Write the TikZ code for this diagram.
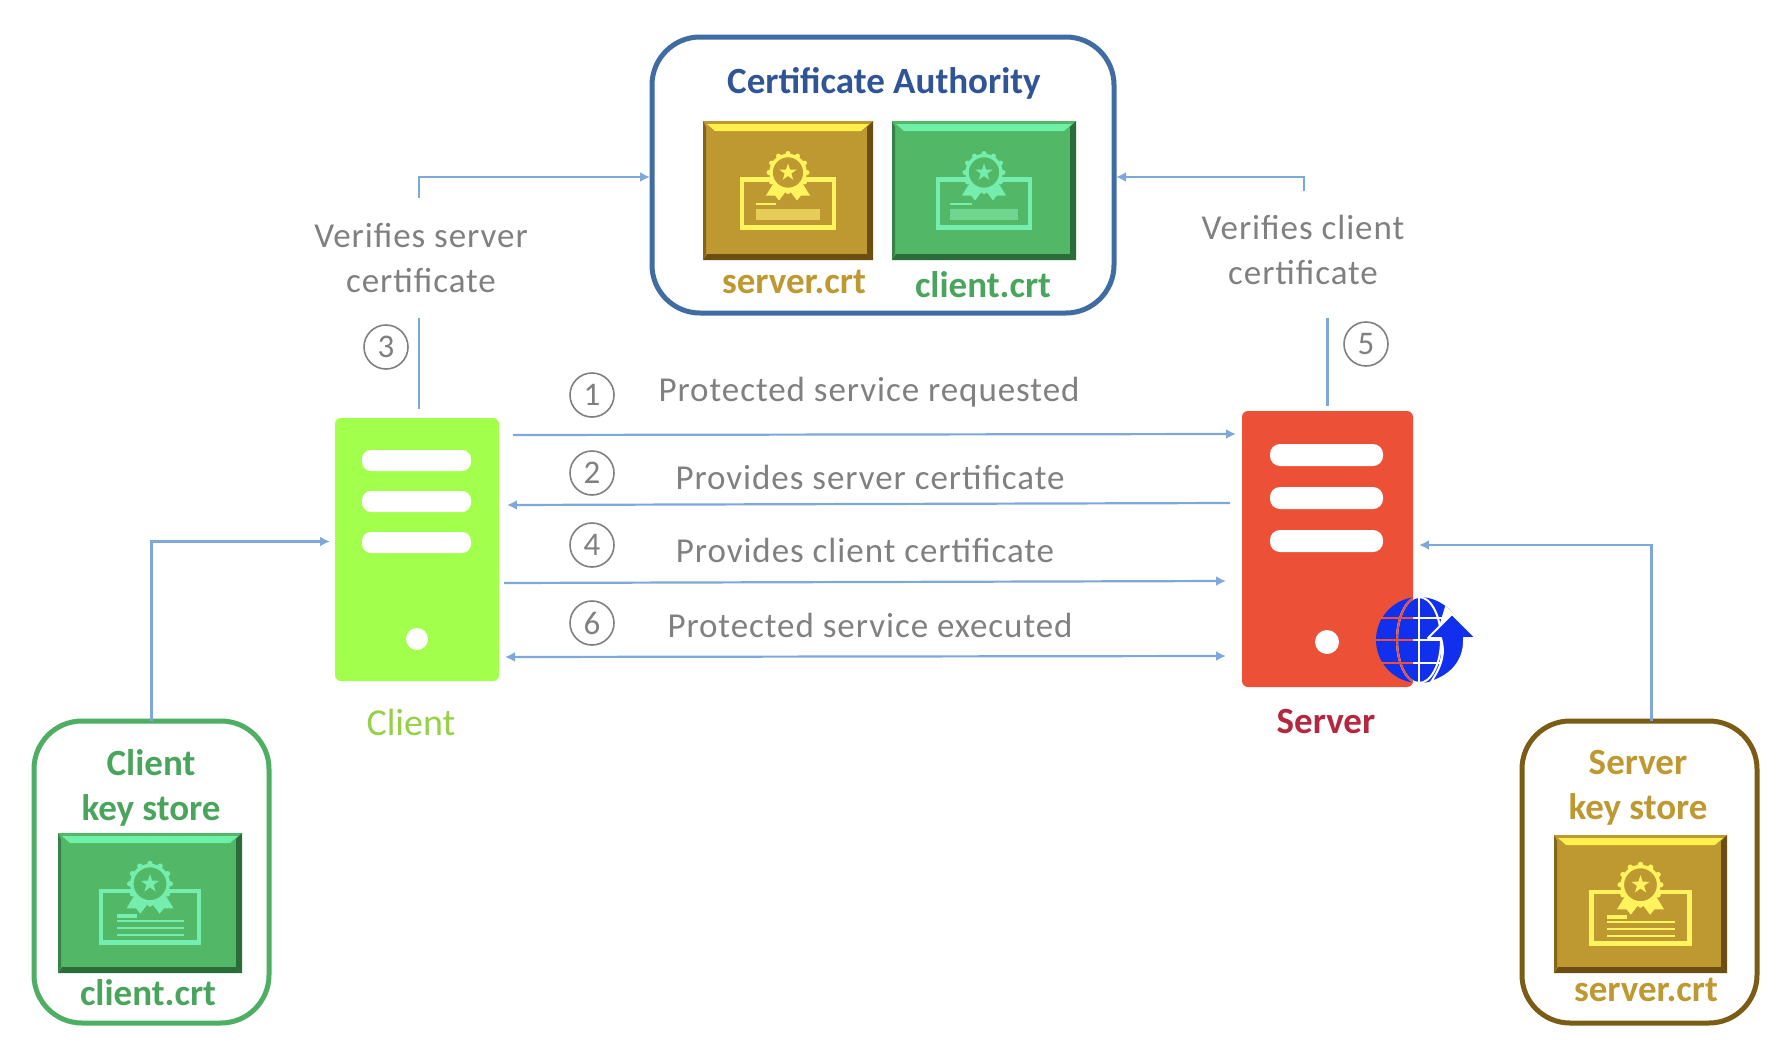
\documentclass[tikz,border=0pt]{standalone}
\usepackage{fontspec}
\setmainfont{Carlito}
\usetikzlibrary{arrows.meta,calc}
\definecolor{srvbase}{HTML}{BE9830}
\definecolor{srvlight}{HTML}{FFF04E}
\definecolor{srvdark}{HTML}{6B4F12}
\definecolor{srvicon}{HTML}{FFF35E}
\definecolor{srvbar}{HTML}{E6CC58}
\definecolor{clibase}{HTML}{52B766}
\definecolor{clilight}{HTML}{6FF0A6}
\definecolor{clidark}{HTML}{2C6B3A}
\definecolor{cliicon}{HTML}{74EDAE}
\definecolor{clibar}{HTML}{70D690}
\definecolor{flowblue}{HTML}{7FA8DA}
\definecolor{labelgrey}{HTML}{808080}
\definecolor{globeblue}{HTML}{1030EE}
\definecolor{caline}{HTML}{3F6CA3}
\definecolor{catext}{HTML}{2F5597}
\definecolor{clientlime}{HTML}{A2FF4C}
\definecolor{clienttext}{HTML}{96D048}
\definecolor{serverred}{HTML}{EC5138}
\definecolor{servertext}{HTML}{B5273F}
\definecolor{storegold}{HTML}{7A5C14}
\tikzset{
	flow/.style={draw=flowblue,line width=2.2pt,-{Latex[length=10pt,width=10pt]}},
	flowboth/.style={draw=flowblue,line width=2.2pt,{Latex[length=10pt,width=10pt]}-{Latex[length=10pt,width=10pt]}},
	hostbox/.style={rounded corners=6pt,inner sep=0pt,outer sep=0pt},
	storebox/.style={draw,fill=white,line width=5pt,rounded corners=48pt,inner sep=0pt,outer sep=0pt},
	cardbox/.style={inner sep=0pt,outer sep=0pt},
	stepnum/.style={circle,draw=labelgrey,line width=1.6pt,fill=white,text=labelgrey,minimum size=44pt,inner sep=0pt,font=\fontsize{33}{36}\selectfont},
	msg/.style={text=labelgrey,inner sep=0pt,align=center,font=\fontsize{35}{45}\selectfont\addfontfeatures{LetterSpace=2.7}},
	boldlabel/.style={inner sep=0pt,align=center,font=\fontsize{37}{45}\selectfont\bfseries}
}
% card with bevel and medal
\newcommand{\certcard}[7]{
	\node[cardbox,fill=#6base,minimum width=#4pt,minimum height=#5pt] (#1) at (#2,#3) {};
	\fill[#6light] ($(#1.north west)+(4,3)$) -- ($(#1.north east)+(-4,3)$) -- ($(#1.north east)+(-12,10)$) -- ($(#1.north west)+(12,10)$) -- cycle;
	\fill[#6dark] (#1.north east) -- (#1.south east) -- ++(-6,-6) -- ($(#1.north east)+(-6,6)$) -- cycle;
	\fill[#6dark] (#1.south west) -- (#1.south east) -- ++(-6,-6) -- ($(#1.south west)+(4,-6)$) -- cycle;
	\fill[#6dark!70!#6base] (#1.north west) -- (#1.south west) -- ++(3,-6) -- ($(#1.north west)+(3,6)$) -- cycle;
	\begin{scope}[shift={(#2,#3)},scale=#7]
		\draw[#6icon,line width=4.5pt] (-46,-11) rectangle (46,37);
		\fill[#6icon] (-14,-8) -- (-22,5) -- (-13,5) -- (-9,10) -- (-3,2) -- (3,2) -- (9,10) -- (13,5) -- (22,5) -- (14,-8) -- cycle;
		\foreach \a in {0,30,...,330}
			\fill[#6icon] (0,-18) ++(\a:19) circle (2.5);
		\draw[#6icon,line width=3.5pt,fill=#6base] (0,-18) circle (17);
		\fill[#6icon,shift={(0,-18)}] (-90:9) -- (-54:3.5) -- (-18:9) -- (18:3.5) -- (54:9) -- (90:3.5) -- (126:9) -- (162:3.5) -- (198:9) -- (234:3.5) -- cycle;
	\end{scope}
}
\begin{document}
\begin{tikzpicture}[x=1pt,y=-1pt]
	\useasboundingbox (0,0) rectangle (1792,1044);
	% Authority
	\node[storebox,draw=caline,minimum width=462pt,minimum height=276pt] (ca) at (883,175) {};
	\node[boldlabel,text=catext] (catitle) at (884,83) {Certificate Authority};
	\certcard{caserver}{788}{190.5}{170}{139}{srv}{1}
	\fill[srvbar] (756,209) rectangle (820,220);
	\draw[srvicon,line width=1.5pt] (756,204) -- (776,204);
	\certcard{caclient}{984}{190.5}{184}{139}{cli}{1}
	\fill[clibar] (950,209) rectangle (1018,220);
	\draw[cliicon,line width=1.5pt] (950,204) -- (972,204);
	\node[boldlabel,text=srvbase] (caservername) at (794,282) {server.crt};
	\node[boldlabel,text=clibase!90!black] (caclientname) at (983,285) {client.crt};
	% Hosts
	\node[hostbox,fill=clientlime,minimum width=164pt,minimum height=263pt] (client) at (417,549.5) {};
	\node[hostbox,fill=serverred,minimum width=171pt,minimum height=276pt] (server) at (1327.5,549) {};
	\foreach \y in {450,491,532}
		\fill[white,rounded corners=9pt] (362,\y) rectangle ++(109,21);
	\foreach \y in {444,487,530}
		\fill[white,rounded corners=10pt] (1270,\y) rectangle ++(113,22);
	\fill[white] (417,639) circle (11);
	\fill[white] (1327,642) circle (12);
	\node[boldlabel,font=\fontsize{38}{45}\selectfont,text=clienttext] (clientname) at (411,722) {Client};
	\node[boldlabel,text=servertext] (servername) at (1326,721) {Server};
	% Globe
	\fill[globeblue] (1419,640) circle (43);
	\begin{scope}
		\clip (1419,640) circle (43);
		\foreach \col/\side in {white/0,serverred/1} {
			\begin{scope}
				\ifnum\side=1 \clip (1242,411) rectangle (1413,687); \fi
				\draw[\col,line width=2pt] (1419,590) -- (1419,690);
				\draw[\col,line width=2pt] (1419,640) ellipse (22 and 43);
				\foreach \y in {618,640,663}
					\draw[\col,line width=2pt] (1370,\y) -- (1470,\y);
			\end{scope}
		}
		\fill[white] (1431,684) .. controls (1442,665) and (1443,650) .. (1438,630) -- (1450,590) -- (1480,590) -- (1480,690) -- cycle;
	\end{scope}
	\draw[white,line width=2pt,fill=globeblue,line join=round] (1452,614) -- (1476,638) -- (1464,638) .. controls (1465,656) and (1456,674) .. (1431,682) .. controls (1443,664) and (1445,652) .. (1441,638) -- (1428,638) -- cycle;
	% Stores
	\node[storebox,draw=clibase!95!black,minimum width=235pt,minimum height=302pt] (clientstore) at (151.5,872) {};
	\node[boldlabel,text=clibase!90!black] (clientstoretitle) at (151,788) {Client\\key store};
	\certcard{storeclient}{150}{903}{184}{140}{cli}{1.07}
	\foreach \y in {921,928,935}
		\draw[cliicon,line width=2pt] (117,\y) -- (184,\y);
	\fill[cliicon] (117,914) rectangle (137,918);
	\node[boldlabel,text=clibase!90!black] (clientstorename) at (148,993) {client.crt};
	\node[storebox,draw=storegold,minimum width=235pt,minimum height=302pt] (serverstore) at (1639.5,872) {};
	\node[boldlabel,text=srvbase] (serverstoretitle) at (1638,788) {Server\\key store};
	\certcard{storeserver}{1640.5}{904}{173}{138}{srv}{1.07}
	\foreach \y in {922,929,936}
		\draw[srvicon,line width=2pt] (1607,\y) -- (1675,\y);
	\fill[srvicon] (1607,915) rectangle (1627,919);
	\node[boldlabel,text=srvbase] (serverstorename) at (1646,990) {server.crt};
	% Connectors
	\coordinate (verifylow) at (1327.5,318);
	\coordinate (verifyhigh) at (1304,191);
	\draw[flow,shorten <=9pt,shorten >=2pt] ([xshift=2pt]client.north) |- ([yshift=-2pt]ca.west);
	\draw[flow,shorten >=2pt] (verifyhigh) |- ([yshift=-2pt]ca.east);
	\draw[flow,-,shorten <=5pt] (server.north) -- (verifylow);
	\draw[flow,shorten >=5pt] (clientstore.north) |- ([yshift=8pt]client.west);
	\draw[flow,shorten >=6pt] ([xshift=12pt]serverstore.north) |- ([yshift=4pt]server.east);
	\draw[flow] ([shift={(14,17)}]client.north east) -- ([shift={(-6,23)}]server.north west);
	\draw[flow] ([shift={(-12,92)}]server.north west) -- ([shift={(8,87)}]client.north east);
	\draw[flow] ([shift={(5,165)}]client.north east) -- ([shift={(-16,170)}]server.north west);
	\draw[flowboth] ([shift={(6,239)}]client.north east) -- ([shift={(-16,245)}]server.north west);
	% Labels
	\node[msg,fill=white,minimum height=120pt] (verifyserver) at (421,258) {Verifies server\\certificate};
	\node[msg] (verifyclient) at (1303,250) {Verifies client\\certificate};
	\node[msg] (msgone) at (869,392) {Protected service requested};
	\node[msg] (msgtwo) at (870,477) {Provides server certificate};
	\node[msg] (msgfour) at (865,550) {Provides client certificate};
	\node[msg] (msgsix) at (870,625) {Protected service executed};
	\node[stepnum] (stepone) at (592,395) {1};
	\node[stepnum] (steptwo) at (592,473) {2};
	\node[stepnum] (stepfour) at (592,545) {4};
	\node[stepnum] (stepsix) at (592,623) {6};
	\node[stepnum] (stepthree) at (386,347) {3};
	\node[stepnum] (stepfive) at (1366,344) {5};
\end{tikzpicture}
\end{document}
